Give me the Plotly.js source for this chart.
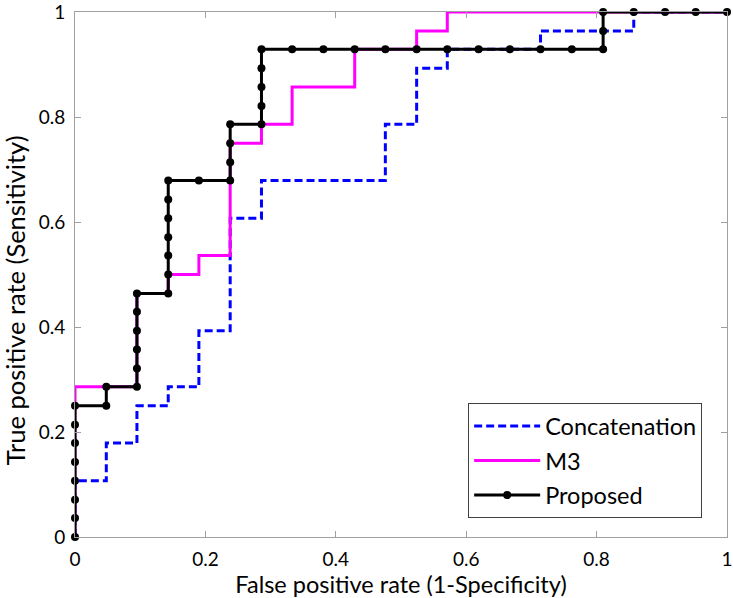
<!DOCTYPE html>
<html>
<head>
<meta charset="utf-8">
<script src="https://cdn.plot.ly/plotly-3.0.1.min.js"></script>
<style>
  html, body { margin: 0; padding: 0; background: #fff; }
  #roc { width: 733px; height: 598px; }
</style>
</head>
<body>
<div id="roc"></div>
<script>
// ROC curves, values (staircase corners)

// Concatenation - step points (vertical step x, top of step)
const concatFpr = [0, 0, 0.048, 0.095, 0.143, 0.190, 0.238, 0.286, 0.476, 0.524, 0.571, 0.714, 0.857, 1];
const concatTpr = [0, 0.107, 0.179, 0.250, 0.286, 0.393, 0.607, 0.679, 0.786, 0.893, 0.929, 0.964, 1, 1];

// M3 - step points
const m3Fpr = [0, 0, 0.095, 0.143, 0.190, 0.238, 0.286, 0.333, 0.429, 0.524, 0.571, 1];
const m3Tpr = [0, 0.286, 0.464, 0.500, 0.536, 0.750, 0.786, 0.857, 0.929, 0.964, 1, 1];

// Proposed - every operating point (shown with markers)
const propFpr = [
	0, 0, 0, 0, 0, 0, 0, 0,
	0.048, 0.048,
	0.095, 0.095, 0.095, 0.095, 0.095, 0.095,
	0.143, 0.143, 0.143, 0.143, 0.143, 0.143, 0.143,
	0.190,
	0.238, 0.238, 0.238, 0.238,
	0.286, 0.286, 0.286, 0.286, 0.286,
	0.333, 0.381, 0.429, 0.476, 0.524, 0.571, 0.619, 0.667, 0.714, 0.762, 0.810,
	0.810, 0.810,
	0.857, 0.905, 0.952, 1
];
const propTpr = [
	0, 0.036, 0.071, 0.107, 0.143, 0.179, 0.214, 0.250,
	0.250, 0.286,
	0.286, 0.321, 0.357, 0.393, 0.429, 0.464,
	0.464, 0.500, 0.536, 0.571, 0.607, 0.643, 0.679,
	0.679,
	0.679, 0.714, 0.750, 0.786,
	0.786, 0.821, 0.857, 0.893, 0.929,
	0.929, 0.929, 0.929, 0.929, 0.929, 0.929, 0.929, 0.929, 0.929, 0.929, 0.929,
	0.964, 1,
	1, 1, 1, 1
];

const tickVals = [0, 0.2, 0.4, 0.6, 0.8, 1];
const tickText = ['0', '0.2', '0.4', '0.6', '0.8', '1'];

const FONT = 'Lato, "Open Sans", sans-serif';

const data = [
	{
		x: concatFpr,
		y: concatTpr,
		name: 'Concatenation',
		legendgroup: 'concat',
		type: 'scatter',
		mode: 'lines',
		line: { color: '#0000ff', width: 3, dash: '8px,4px', shape: 'hv' },
		cliponaxis: false
	},
	{
		x: m3Fpr,
		y: m3Tpr,
		name: 'M3',
		legendgroup: 'm3',
		type: 'scatter',
		mode: 'lines',
		line: { color: '#ff00ff', width: 3, shape: 'hv' },
		cliponaxis: false
	},
	{
		x: propFpr,
		y: propTpr,
		name: 'Proposed',
		legendgroup: 'prop',
		type: 'scatter',
		mode: 'lines+markers',
		line: { color: '#000000', width: 3 },
		marker: { color: '#000000', size: 8 },
		cliponaxis: false
	}
];

const axisCommon = {
	range: [0, 1],
	tickmode: 'array',
	tickvals: tickVals,
	ticktext: tickText,
	ticks: 'inside',
	ticklen: 6,
	tickcolor: '#a0a0a0',
	showline: true,
	linecolor: '#a0a0a0',
	linewidth: 1,
	mirror: 'ticks',
	showgrid: false,
	zeroline: false,
	ticklabeloverflow: 'allow',
	ticklabelstandoff: 5,
	tickfont: { family: FONT, size: 19, color: '#000' }
};

const layout = {
	width: 733,
	height: 598,
	margin: { l: 75, r: 6, t: 12, b: 61 },
	paper_bgcolor: '#fff',
	plot_bgcolor: '#fff',
	showlegend: true,
	xaxis: Object.assign({}, axisCommon, {
		title: { text: 'False positive rate (1-Specificity)', font: { family: FONT, size: 23.5, color: '#000' }, standoff: 6 }
	}),
	yaxis: Object.assign({}, axisCommon),
	// y title sits a little below the plot centre in the original
	annotations: [{
		text: 'True positive rate (Sensitivity)',
		xref: 'paper',
		yref: 'paper',
		x: -0.092,
		y: 0.451,
		xanchor: 'center',
		yanchor: 'middle',
		textangle: -90,
		showarrow: false,
		font: { family: FONT, size: 25.5, color: '#000' }
	}],
	legend: {
		x: 0.603,
		y: 0.255,
		xanchor: 'left',
		yanchor: 'top',
		traceorder: 'grouped',
		tracegroupgap: 1,
		bgcolor: '#fff',
		bordercolor: '#404040',
		borderwidth: 1,
		itemwidth: 66,
		font: { family: FONT, size: 23.5, color: '#000' }
	}
};

Plotly.newPlot('roc', data, layout, { displayModeBar: false, staticPlot: true });
</script>
</body>
</html>
